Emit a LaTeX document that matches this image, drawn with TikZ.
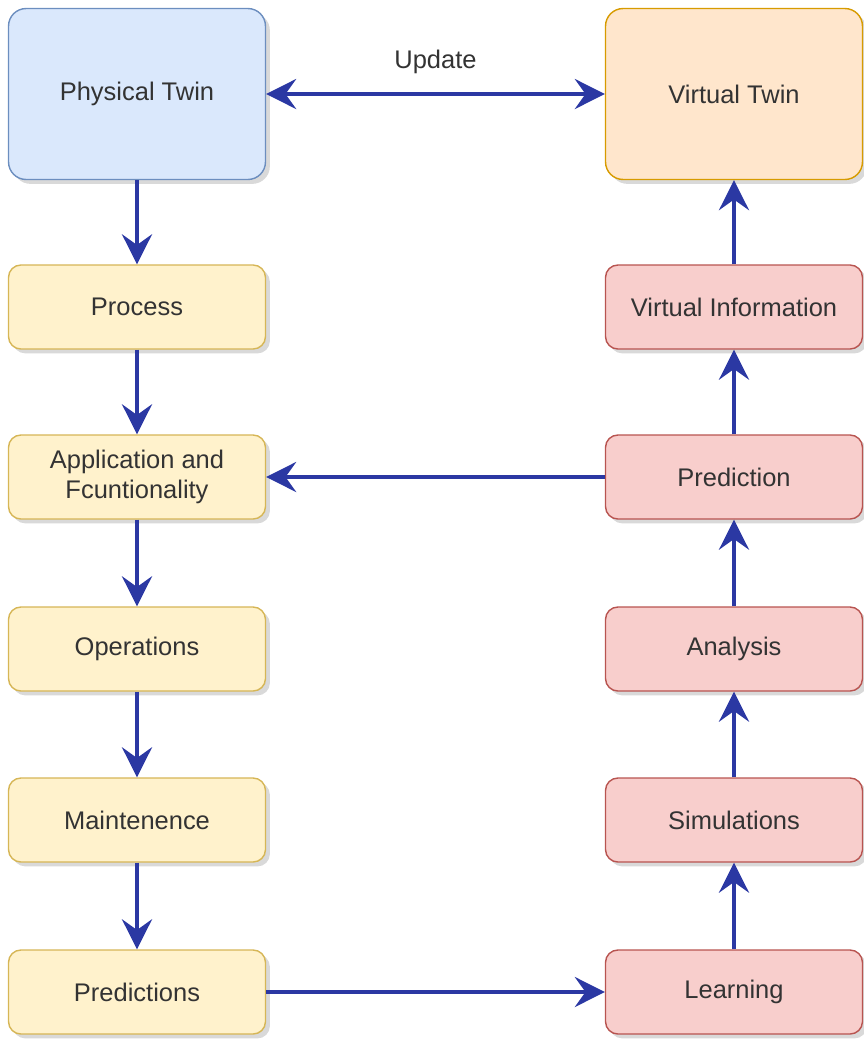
\documentclass[tikz,border=0pt]{standalone}
\usepackage{fontspec}
\setmainfont{Liberation Sans}
\usetikzlibrary{arrows.meta,shadows}

\definecolor{physfill}{HTML}{DAE8FC}
\definecolor{physline}{HTML}{6C8EBF}
\definecolor{virtfill}{HTML}{FFE6CC}
\definecolor{virtline}{HTML}{D79B00}
\definecolor{stepfill}{HTML}{FFF2CC}
\definecolor{stepline}{HTML}{D6B656}
\definecolor{calcfill}{HTML}{F8CECC}
\definecolor{calcline}{HTML}{B85450}
\definecolor{flowblue}{HTML}{2B38A3}

\tikzset{
  box/.style={draw, line width=0.8pt, rounded corners=7pt, align=center,
    text=black!80, font=\fontsize{14.5}{17}\selectfont,
    drop shadow={shadow xshift=2.5pt, shadow yshift=-2.5pt, fill=black!25, opacity=0.6}},
  twinbox/.style={box, minimum width=5.14cm, minimum height=3.42cm, rounded corners=10pt},
  stagebox/.style={box, minimum width=5.14cm, minimum height=1.68cm},
  flow/.style={draw=flowblue, line width=2.8pt,
    -{Stealth[length=17pt, width=17pt, inset=6pt]}},
}

\begin{document}
\begin{tikzpicture}[x=0.02cm, y=-0.02cm]
  \useasboundingbox (0,0) rectangle (864,1039);

  % twins
  \node[twinbox, fill=physfill, draw=physline] (phys) at (137,94) {Physical Twin};
  \node[twinbox, fill=virtfill, draw=virtline] (virt) at (734,94) {Virtual Twin};

  % physical side
  \node[stagebox, fill=stepfill, draw=stepline] (process) at (137,307) {Process};
  \node[stagebox, fill=stepfill, draw=stepline] (appl) at (137,477) {Application and\\Fcuntionality};
  \node[stagebox, fill=stepfill, draw=stepline] (oper) at (137,649) {Operations};
  \node[stagebox, fill=stepfill, draw=stepline] (maint) at (137,820) {Maintenence};
  \node[stagebox, fill=stepfill, draw=stepline] (preds) at (137,992) {Predictions};

  % virtual side
  \node[stagebox, fill=calcfill, draw=calcline] (vinfo) at (734,307) {Virtual Information};
  \node[stagebox, fill=calcfill, draw=calcline] (pred) at (734,477) {Prediction};
  \node[stagebox, fill=calcfill, draw=calcline] (anal) at (734,649) {Analysis};
  \node[stagebox, fill=calcfill, draw=calcline] (simul) at (734,820) {Simulations};
  \node[stagebox, fill=calcfill, draw=calcline] (learn) at (734,992) {Learning};

  % connectors
  \draw[flow, {Stealth[length=17pt, width=17pt, inset=6pt]}-{Stealth[length=17pt, width=17pt, inset=6pt]}]
    (phys) -- node[above=6.5pt, text=black!80, font=\fontsize{14.5}{17}\selectfont] {Update} (virt);
  \draw[flow] (phys) -- (process);
  \draw[flow] (process) -- (appl);
  \draw[flow] (appl) -- (oper);
  \draw[flow] (oper) -- (maint);
  \draw[flow] (maint) -- (preds);
  \draw[flow] (preds) -- (learn);
  \draw[flow] (learn) -- (simul);
  \draw[flow] (simul) -- (anal);
  \draw[flow] (anal) -- (pred);
  \draw[flow] (pred) -- (vinfo);
  \draw[flow] (vinfo) -- (virt);
  \draw[flow] (pred) -- (appl);
\end{tikzpicture}
\end{document}
